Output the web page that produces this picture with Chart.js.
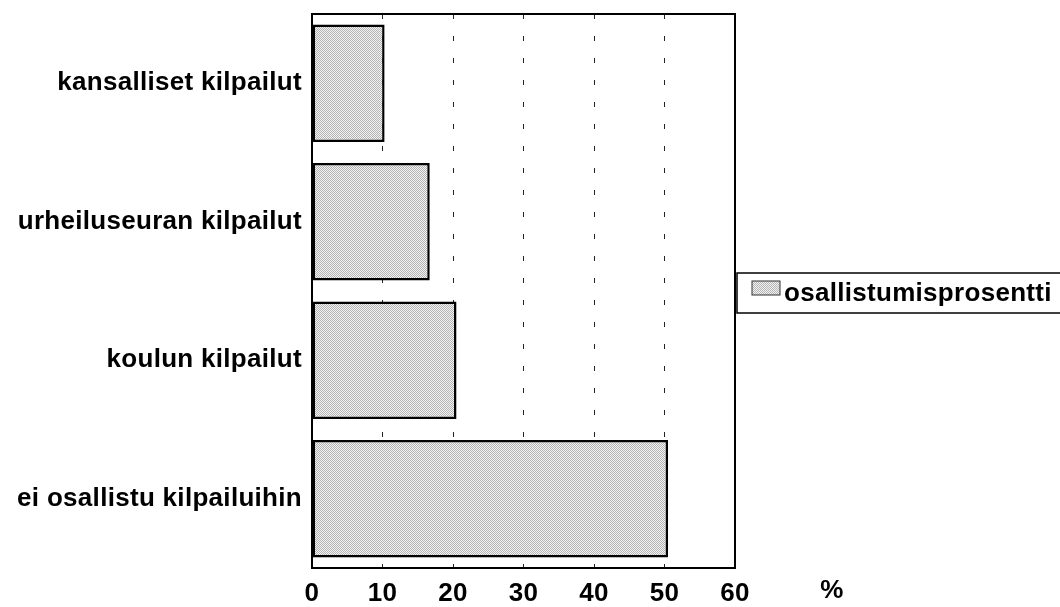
<!DOCTYPE html>
<html>
<head>
<meta charset="utf-8">
<script src="https://cdn.jsdelivr.net/npm/chart.js@4"></script>
<style>
  body { margin: 0; background: #fff; }
  canvas { display: block; }
</style>
</head>
<body>
<canvas id="chart" width="1060" height="607"></canvas>
<script>
const categories = ['kansalliset kilpailut', 'urheiluseuran kilpailut', 'koulun kilpailut', 'ei osallistu kilpailuihin'];
const values = [10.3, 16.7, 20.5, 50.5];
const seriesName = 'osallistumisprosentti';
const xTicks = [0, 10, 20, 30, 40, 50, 60];
const unitLabel = '%';

const FONT = '"Liberation Sans", Arial, sans-serif';
const LS = '0.3px';

// grey dithered fill like the scanned original
function makePattern() {
  const c = document.createElement('canvas');
  c.width = 2; c.height = 2;
  const g = c.getContext('2d');
  g.fillStyle = '#f2f2f2'; g.fillRect(0, 0, 2, 2);
  g.fillStyle = '#b4b4b4'; g.fillRect(0, 0, 1, 1); g.fillRect(1, 1, 1, 1);
  return g.createPattern(c, 'repeat');
}
const fill = makePattern();

const spacing = {
  id: 'spacing',
  beforeLayout(chart) { chart.ctx.letterSpacing = LS; },
  beforeDraw(chart) { chart.ctx.letterSpacing = LS; }
};

const extras = {
  id: 'extras',
  afterDraw(chart) {
    const { ctx, chartArea: a } = chart;
    ctx.save();
    // plot frame
    ctx.strokeStyle = '#000';
    ctx.lineWidth = 2;
    ctx.strokeRect(a.left, a.top, a.right - a.left, a.bottom - a.top);
    // unit label
    ctx.letterSpacing = LS;
    ctx.fillStyle = '#000';
    ctx.font = 'bold 26px ' + FONT;
    ctx.textAlign = 'center';
    ctx.textBaseline = 'top';
    ctx.fillText(unitLabel, 832, 578);
    // legend box
    ctx.lineWidth = 1.5;
    ctx.strokeRect(737, 273, 330, 40);
    ctx.fillStyle = fill;
    ctx.fillRect(752, 281, 28, 14);
    ctx.lineWidth = 1;
    ctx.strokeStyle = '#333';
    ctx.strokeRect(752, 281, 28, 14);
    ctx.fillStyle = '#000';
    ctx.textAlign = 'left';
    ctx.textBaseline = 'alphabetic';
    ctx.fillText(seriesName, 784, 301);
    ctx.restore();
  }
};

new Chart(document.getElementById('chart'), {
  type: 'bar',
  data: {
    labels: categories,
    datasets: [{
      label: seriesName,
      data: values,
      backgroundColor: fill,
      borderColor: '#000',
      borderWidth: 2.5,
      borderSkipped: false,
      barPercentage: 0.85,
      categoryPercentage: 1
    }]
  },
  options: {
    indexAxis: 'y',
    responsive: false,
    animation: false,
    layout: { padding: { top: 14, right: 325, bottom: 0, left: 0 } },
    plugins: { legend: { display: false }, tooltip: { enabled: false } },
    scales: {
      x: {
        min: 0, max: 60,
        afterBuildTicks: s => { s.ticks = xTicks.map(v => ({ value: v })); },
        afterFit: s => { s.height = 39; },
        border: { display: false, dash: [5, 17] },
        grid: {
          drawTicks: false,
          color: c => (c.tick && (c.tick.value === 0 || c.tick.value === 60)) ? 'rgba(0,0,0,0)' : '#222',
          lineWidth: 1
        },
        ticks: { padding: 10, color: '#000', font: { family: FONT, size: 26, weight: 'bold' } }
      },
      y: {
        afterFit: s => { s.width = 312; s.paddingTop = 0; s.paddingBottom = 0; },
        border: { display: false },
        grid: { display: false, drawTicks: false },
        ticks: { padding: 10, color: '#000', font: { family: FONT, size: 26, weight: 'bold' } }
      }
    }
  },
  plugins: [spacing, extras]
});
</script>
</body>
</html>
